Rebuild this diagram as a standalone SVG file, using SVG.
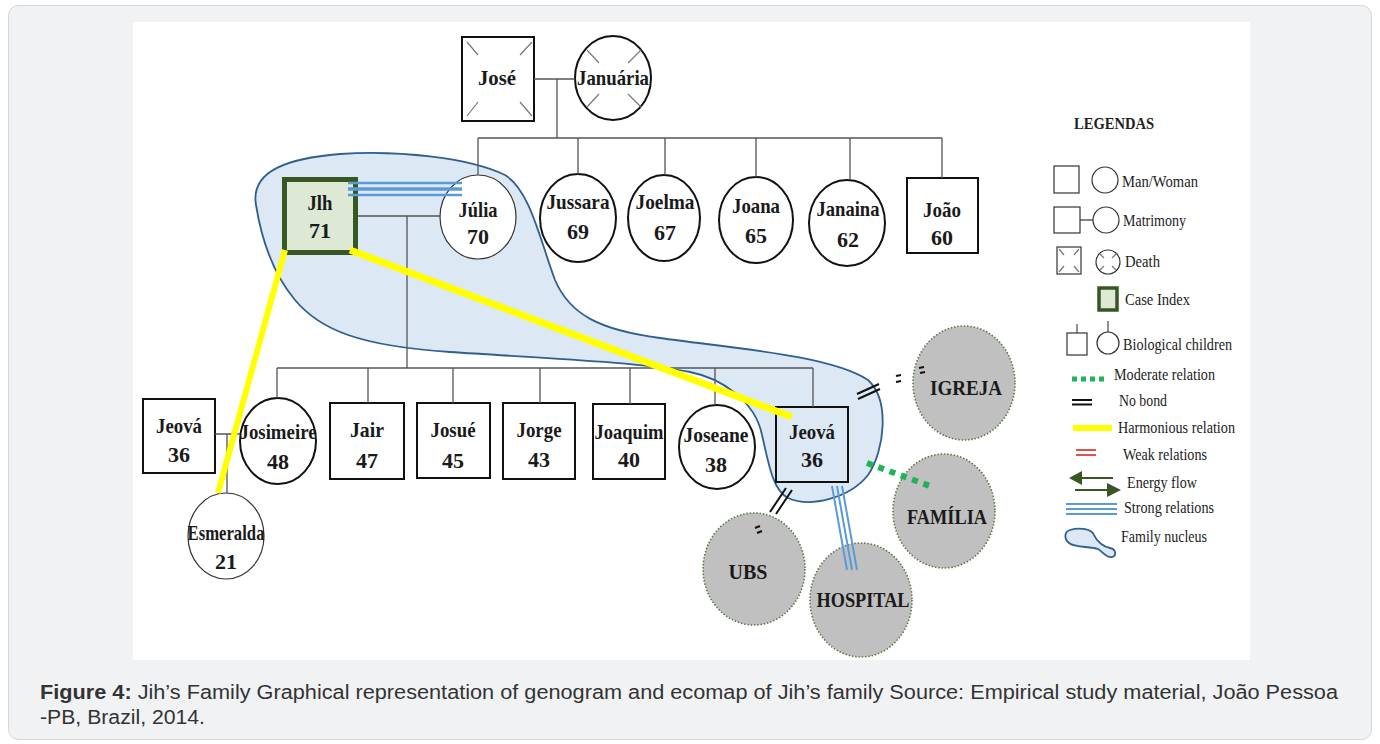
<svg xmlns="http://www.w3.org/2000/svg" width="1380" height="744" viewBox="0 0 1380 744">
  <style>
    .name { font-family: "Liberation Serif", "Times New Roman", serif; font-weight: bold; font-size: 22px; fill: #1a1a1a; text-anchor: middle; }
    .eco { font-family: "Liberation Serif", "Times New Roman", serif; font-weight: bold; font-size: 20px; fill: #1a1a1a; text-anchor: middle; }
    .leg { font-family: "Liberation Serif", "Times New Roman", serif; font-size: 16px; fill: #222; }
    .legt { font-family: "Liberation Serif", "Times New Roman", serif; font-weight: bold; font-size: 16px; fill: #222; }
    .cap { font-family: "Liberation Sans", Arial, sans-serif; font-size: 20px; fill: #333; }
    .box { fill: #fff; stroke: #111; stroke-width: 2; }
    .thin { fill: #fff; stroke: #333; stroke-width: 1.2; }
    .gen { fill: none; stroke: #555; stroke-width: 1.3; }
    .mark { fill: none; stroke: #777; stroke-width: 1.2; }
    .inst { fill: #c0c0c0; stroke: #5b7a4a; stroke-width: 1.6; stroke-dasharray: 1.5 1.8; }
    .strong { fill: none; stroke: #5b9bd5; }
    .harm { fill: none; stroke: #ffff00; stroke-linecap: butt; }
    .nob { fill: none; stroke: #111; stroke-width: 2; }
    .mod { fill: none; stroke: #1fb455; stroke-width: 6; stroke-dasharray: 6 6; }
    .nuc { fill: #dce8f4; stroke: #2f5f8f; stroke-width: 1.8; }
    .lgbox { fill: #fff; stroke: #333; stroke-width: 1.2; }
    .flow { fill: none; stroke: #375623; stroke-width: 2; }
  </style>

  <!-- page frame and figure panel -->
  <rect x="8.5" y="5.5" width="1363" height="734" rx="10" fill="#f1f2f4" stroke="#d3d6da" stroke-width="1"/>
  <rect x="133" y="22" width="1117" height="638" fill="#ffffff"/>

  <!-- family nucleus outline -->
  <g id="family-nucleus">
    <path class="nuc" d="M256,205 C250,170 290,158 340,154 C400,150 470,158 505,175 C530,190 540,240 555,280 C570,315 600,330 660,338 C730,348 830,355 868,380 C890,400 885,450 868,475 C850,498 810,508 788,498 C772,490 768,460 762,435 C755,400 720,378 690,372 C640,362 540,358 450,352 C360,346 320,330 295,300 C270,270 260,230 256,205 Z"/>
  </g>

  <!-- first generation -->
  <g id="node-jose">
    <rect class="box" x="462" y="37" width="72" height="84"/>
    <path class="mark" d="M467,42 L478,55 M532,42 L520,55 M467,116 L478,102 M532,116 L520,102"/>
    <text class="name" x="497" y="85" textLength="38" lengthAdjust="spacingAndGlyphs">José</text>
  </g>
  <g id="node-januaria">
    <ellipse class="box" cx="613" cy="78" rx="38" ry="42"/>
    <path class="mark" d="M587,50 L599,63 M641,50 L628,63 M587,107 L599,94 M641,107 L628,94"/>
    <text class="name" x="613" y="85" textLength="72" lengthAdjust="spacingAndGlyphs">Januária</text>
  </g>

  <!-- second generation -->
  <g id="node-jih">
    <rect x="284.5" y="179.5" width="71" height="73" fill="#dde9d5" stroke="#375623" stroke-width="5"/>
    <text class="name" x="320" y="210" font-size="19" textLength="25" lengthAdjust="spacingAndGlyphs">Jlh</text>
    <text class="name" x="320" y="238" font-size="20">71</text>
  </g>
  <g id="node-julia">
    <ellipse class="thin" cx="478" cy="217" rx="38" ry="42"/>
    <text class="name" x="478" y="217" textLength="39" lengthAdjust="spacingAndGlyphs">Júlia</text>
    <text class="name" x="478" y="244">70</text>
  </g>
  <g id="node-jussara">
    <ellipse class="box" cx="578" cy="218" rx="38" ry="44"/>
    <text class="name" x="578" y="209" textLength="63" lengthAdjust="spacingAndGlyphs">Jussara</text>
    <text class="name" x="578" y="239">69</text>
  </g>
  <g id="node-joelma">
    <ellipse class="box" cx="664" cy="218" rx="36" ry="43"/>
    <text class="name" x="665" y="209" textLength="59" lengthAdjust="spacingAndGlyphs">Joelma</text>
    <text class="name" x="665" y="240">67</text>
  </g>
  <g id="node-joana">
    <ellipse class="box" cx="756" cy="220" rx="37" ry="43"/>
    <text class="name" x="756" y="213" textLength="48" lengthAdjust="spacingAndGlyphs">Joana</text>
    <text class="name" x="756" y="243">65</text>
  </g>
  <g id="node-janaina">
    <ellipse class="box" cx="847" cy="223" rx="38" ry="43"/>
    <text class="name" x="848" y="216" textLength="63" lengthAdjust="spacingAndGlyphs">Janaina</text>
    <text class="name" x="848" y="247">62</text>
  </g>
  <g id="node-joao">
    <rect class="box" x="907" y="178" width="71" height="75"/>
    <text class="name" x="942" y="217" textLength="38" lengthAdjust="spacingAndGlyphs">João</text>
    <text class="name" x="942" y="245">60</text>
  </g>

  <!-- third generation -->
  <g id="node-jeova-spouse">
    <rect class="box" x="143" y="399" width="72" height="74"/>
    <text class="name" x="179" y="433" textLength="46" lengthAdjust="spacingAndGlyphs">Jeová</text>
    <text class="name" x="179" y="462">36</text>
  </g>
  <g id="node-josimeire">
    <ellipse class="box" cx="278" cy="441" rx="38" ry="43"/>
    <text class="name" x="278" y="439" textLength="77" lengthAdjust="spacingAndGlyphs">Josimeire</text>
    <text class="name" x="278" y="469">48</text>
  </g>
  <g id="node-jair">
    <rect class="box" x="330" y="403" width="74" height="76"/>
    <text class="name" x="367" y="437" textLength="34" lengthAdjust="spacingAndGlyphs">Jair</text>
    <text class="name" x="367" y="468">47</text>
  </g>
  <g id="node-josue">
    <rect class="box" x="417" y="403" width="73" height="75"/>
    <text class="name" x="453" y="437" textLength="45" lengthAdjust="spacingAndGlyphs">Josué</text>
    <text class="name" x="453" y="468">45</text>
  </g>
  <g id="node-jorge">
    <rect class="box" x="503" y="403" width="72" height="76"/>
    <text class="name" x="539" y="437" textLength="45" lengthAdjust="spacingAndGlyphs">Jorge</text>
    <text class="name" x="539" y="467">43</text>
  </g>
  <g id="node-joaquim">
    <rect class="box" x="593" y="404" width="72" height="75"/>
    <text class="name" x="629" y="439" textLength="69" lengthAdjust="spacingAndGlyphs">Joaquim</text>
    <text class="name" x="629" y="467">40</text>
  </g>
  <g id="node-joseane">
    <ellipse class="box" cx="717" cy="447" rx="38" ry="42"/>
    <text class="name" x="716" y="442" textLength="65" lengthAdjust="spacingAndGlyphs">Joseane</text>
    <text class="name" x="716" y="472">38</text>
  </g>
  <g id="node-jeova">
    <rect x="776" y="407" width="72" height="75" fill="none" stroke="#111" stroke-width="2"/>
    <text class="name" x="812" y="439" textLength="46" lengthAdjust="spacingAndGlyphs">Jeová</text>
    <text class="name" x="812" y="467">36</text>
  </g>

  <!-- fourth generation -->
  <g id="node-esmeralda">
    <ellipse class="thin" cx="226" cy="536" rx="38" ry="43"/>
    <text class="name" x="226" y="540" textLength="77" lengthAdjust="spacingAndGlyphs">Esmeralda</text>
    <text class="name" x="226" y="569">21</text>
  </g>

  <!-- community resources -->
  <g id="node-igreja">
    <ellipse class="inst" cx="964" cy="383" rx="51" ry="57"/>
    <text class="eco" x="966" y="395" textLength="72" lengthAdjust="spacingAndGlyphs">IGREJA</text>
  </g>
  <g id="node-familia">
    <ellipse class="inst" cx="944" cy="511" rx="51" ry="57"/>
    <text class="eco" x="947" y="524" textLength="80" lengthAdjust="spacingAndGlyphs">FAMÍLIA</text>
  </g>
  <g id="node-ubs">
    <ellipse class="inst" cx="754" cy="569" rx="51" ry="56"/>
    <text class="eco" x="748" y="579">UBS</text>
  </g>
  <g id="node-hospital">
    <ellipse class="inst" cx="861" cy="600" rx="51" ry="57"/>
    <text class="eco" x="863" y="607" textLength="93" lengthAdjust="spacingAndGlyphs">HOSPITAL</text>
  </g>

  <!-- connectors -->
  <g id="connectors">
    <!-- genogram lines -->
    <path class="gen" d="M534,79 H575 M557,79 V138 M478,138 H942 M478,138 V175 M578,138 V174 M665,138 V175 M756,138 V177 M850,138 V180 M942,138 V178"/>
    <path class="gen" d="M358,216 H440 M407,216 V368 M277,368 H813 M277,368 V398 M368,368 V403 M453,368 V403 M540,368 V403 M630,368 V404 M715,368 V405 M813,368 V407"/>
    <path class="gen" d="M215,434 H240 M227,434 V493"/>
    <!-- strong relation Jih - Julia -->
    <line class="strong" x1="348" y1="183" x2="462" y2="183" stroke-width="2.5" stroke="#8fb8e3"/>
    <line class="strong" x1="348" y1="189" x2="462" y2="189" stroke-width="3.5"/>
    <line class="strong" x1="348" y1="195" x2="462" y2="195" stroke-width="2.5" stroke="#8fb8e3"/>
    <!-- strong relation Jeova - Hospital -->
    <line class="strong" x1="832" y1="486" x2="847" y2="570" stroke-width="2"/>
    <line class="strong" x1="837" y1="486" x2="852" y2="570" stroke-width="2"/>
    <line class="strong" x1="842" y1="486" x2="857" y2="570" stroke-width="2"/>
    <!-- moderate relation Jeova - Familia -->
    <line class="mod" x1="867" y1="463" x2="930" y2="486"/>
    <!-- no bond Jeova - UBS -->
    <line class="nob" x1="770" y1="512" x2="786" y2="488"/>
    <line class="nob" x1="776" y1="514" x2="792" y2="490"/>
    <path class="nob" stroke-width="1.5" d="M755,528 L760,526 M757,533 L762,531"/>
    <!-- no bond Jeova - Igreja -->
    <line class="nob" x1="857" y1="394" x2="879" y2="384"/>
    <line class="nob" x1="858" y1="399" x2="880" y2="389"/>
    <path class="nob" stroke-width="2" d="M896,376 L901,375 M896,382 L901,381 M919,368 L924,367 M920,373 L925,372"/>
    <!-- harmonious relations -->
    <line class="harm" x1="350" y1="250" x2="792" y2="417" stroke-width="7"/>
    <line class="harm" x1="285" y1="250" x2="218" y2="493" stroke-width="6"/>
  </g>

  <!-- legend -->
  <g id="legend">
    <text class="legt" x="1074" y="129" textLength="80" lengthAdjust="spacingAndGlyphs">LEGENDAS</text>
    <rect class="lgbox" x="1054" y="166" width="25" height="27"/>
    <circle class="lgbox" cx="1105" cy="180" r="13"/>
    <text class="leg" x="1122" y="187" textLength="76" lengthAdjust="spacingAndGlyphs">Man/Woman</text>

    <rect class="lgbox" x="1054" y="207" width="26" height="26"/>
    <line x1="1080" y1="220" x2="1093" y2="220" stroke="#333" stroke-width="1.2"/>
    <circle class="lgbox" cx="1106" cy="220" r="13"/>
    <text class="leg" x="1123" y="226" textLength="63" lengthAdjust="spacingAndGlyphs">Matrimony</text>

    <rect class="lgbox" x="1057" y="247" width="24" height="27"/>
    <path class="mark" d="M1059,249 L1064,255 M1079,249 L1074,255 M1059,272 L1064,266 M1079,272 L1074,266"/>
    <circle class="lgbox" cx="1108" cy="262" r="12"/>
    <path class="mark" d="M1100,254 L1104,258 M1116,254 L1112,258 M1100,270 L1104,266 M1116,270 L1112,266"/>
    <text class="leg" x="1125" y="267" textLength="35" lengthAdjust="spacingAndGlyphs">Death</text>

    <rect x="1099" y="288" width="18" height="22" fill="#dde9d5" stroke="#375623" stroke-width="3.5"/>
    <text class="leg" x="1125" y="305" textLength="65" lengthAdjust="spacingAndGlyphs">Case Index</text>

    <path class="gen" stroke="#333" d="M1077,324 V333 M1108,321 V332"/>
    <rect class="lgbox" x="1067" y="333" width="20" height="22"/>
    <circle class="lgbox" cx="1108" cy="343" r="11"/>
    <text class="leg" x="1123" y="350" textLength="109" lengthAdjust="spacingAndGlyphs">Biological  children</text>

    <line x1="1072" y1="379" x2="1106" y2="379" stroke="#1fb455" stroke-width="5" stroke-dasharray="5 4"/>
    <text class="leg" x="1114" y="380" textLength="101" lengthAdjust="spacingAndGlyphs">Moderate relation</text>

    <path class="nob" stroke-width="2" d="M1072,400 H1092 M1072,404.5 H1092"/>
    <text class="leg" x="1119" y="406" textLength="48" lengthAdjust="spacingAndGlyphs">No bond</text>

    <line x1="1073" y1="428" x2="1112" y2="428" stroke="#ffff00" stroke-width="6"/>
    <text class="leg" x="1118" y="433" textLength="117" lengthAdjust="spacingAndGlyphs">Harmonious relation</text>

    <path fill="none" stroke="#d9534f" stroke-width="1.8" d="M1076,450 H1096 M1076,455 H1096"/>
    <text class="leg" x="1123" y="460" textLength="84" lengthAdjust="spacingAndGlyphs">Weak relations</text>

    <path class="flow" d="M1113,478 H1080 M1075,490 H1108"/>
    <polygon points="1069,478 1082,471 1082,485" fill="#375623"/>
    <polygon points="1121,490 1107,483 1107,497" fill="#375623"/>
    <text class="leg" x="1127" y="488" textLength="70" lengthAdjust="spacingAndGlyphs">Energy flow</text>

    <path fill="none" stroke="#5b9bd5" stroke-width="1.8" d="M1066,504 H1117 M1066,509 H1117 M1066,514 H1117"/>
    <text class="leg" x="1124" y="513" textLength="90" lengthAdjust="spacingAndGlyphs">Strong relations</text>

    <path class="nuc" stroke-width="2.5" d="M1070,530 C1080,527 1092,529 1094,535 C1097,542 1104,547 1110,548 C1116,549 1117,556 1112,557 C1106,558 1103,552 1098,549 C1090,546 1075,548 1069,543 C1064,539 1064,532 1070,530 Z"/>
    <text class="leg" x="1121" y="542" textLength="86" lengthAdjust="spacingAndGlyphs">Family nucleus</text>
  </g>

  <!-- caption -->
  <g id="caption">
    <text class="cap" x="40" y="699" textLength="1298" lengthAdjust="spacingAndGlyphs"><tspan font-weight="bold">Figure 4:</tspan> Jih’s Family Graphical representation of genogram and ecomap of Jih’s family Source: Empirical study material, João Pessoa</text>
    <text class="cap" x="40" y="724" textLength="165" lengthAdjust="spacingAndGlyphs">-PB, Brazil, 2014.</text>
  </g>
</svg>
